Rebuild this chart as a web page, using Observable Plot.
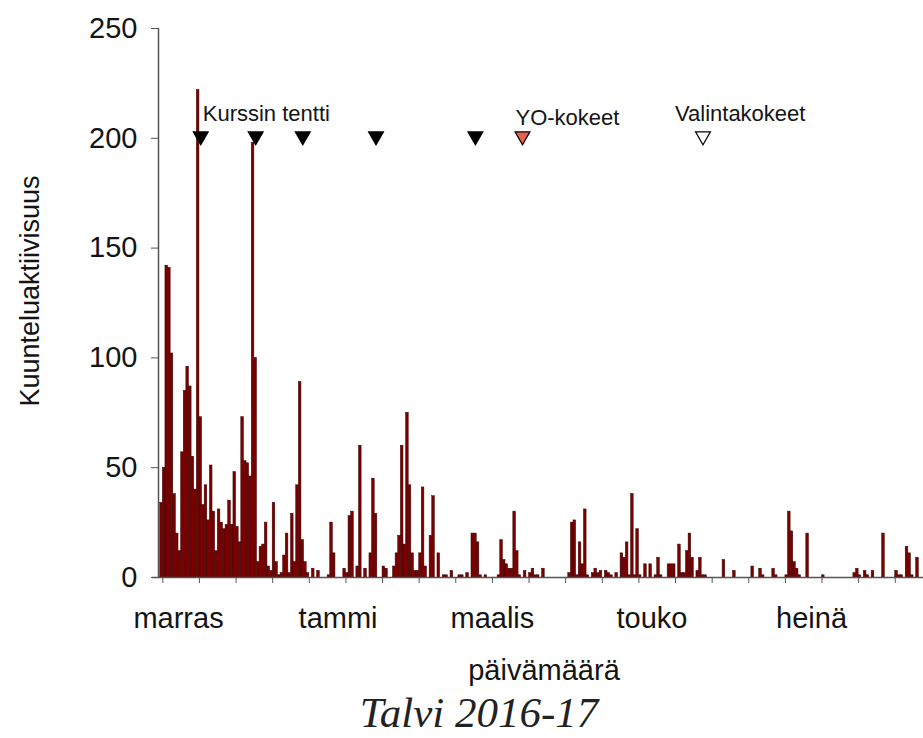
<!DOCTYPE html>
<html>
<head>
<meta charset="utf-8">
<script src="https://cdn.jsdelivr.net/npm/d3@7"></script>
<script src="https://cdn.jsdelivr.net/npm/@observablehq/plot@0.6"></script>
<style>
  html, body { margin: 0; padding: 0; background: white; }
  #wrap { position: relative; width: 923px; height: 738px; overflow: hidden; }
  #caption { position: absolute; left: 0; top: 688px; width: 923px; padding-left: 35px; box-sizing: border-box;
    text-align: center; font-family: 'Liberation Serif', 'DejaVu Serif', serif; font-style: italic;
    font-size: 43px; line-height: 50px; color: #222; }
</style>
</head>
<body>
<div id="wrap"><div id="chart"></div><div id="caption">Talvi 2016-17</div></div>
<script>
// Daily listening activity, one value per day starting 2016-10-25
const startDate = "2016-10-25";
const activity = [
  34, 50, 142, 141, 102, 38, 20, 12, 57, 85, 96, 87, 55, 40, 222, 73, 33, 42, 26, 51,
  30, 12, 31, 25, 22, 24, 35, 24, 48, 23, 16, 73, 53, 52, 46, 198, 100, 7, 14, 15,
  25, 5, 3, 34, 7, 1, 2, 10, 20, 2, 29, 7, 42, 89, 17, 7, 2, 0, 4, 0,
  3, 0, 0, 0, 1, 25, 11, 0, 0, 0, 4, 2, 28, 30, 0, 5, 60, 0, 4, 0,
  11, 45, 29, 0, 0, 5, 4, 0, 0, 5, 11, 19, 60, 15, 75, 42, 11, 3, 3, 11,
  41, 5, 0, 19, 37, 0, 11, 0, 1, 1, 0, 3, 0, 0, 1, 1, 0, 2, 0, 20,
  20, 16, 1, 0, 1, 0, 0, 0, 0, 1, 17, 8, 6, 4, 4, 30, 12, 1, 0, 3,
  0, 2, 4, 1, 1, 0, 4, 0, 0, 0, 0, 0, 0, 0, 0, 0, 2, 25, 26, 1,
  16, 6, 31, 1, 0, 2, 4, 2, 3, 0, 3, 2, 1, 0, 2, 0, 11, 9, 16, 1,
  38, 1, 22, 1, 0, 6, 0, 6, 0, 1, 9, 1, 0, 0, 6, 6, 6, 0, 15, 2,
  2, 12, 20, 9, 0, 3, 9, 1, 1, 0, 0, 0, 0, 0, 0, 8, 0, 0, 0, 3,
  0, 0, 0, 0, 0, 0, 5, 0, 0, 4, 1, 0, 0, 0, 4, 1, 0, 0, 0, 1,
  30, 21, 7, 4, 1, 0, 0, 20, 0, 0, 0, 0, 0, 1, 0, 0, 0, 0, 0, 0,
  0, 0, 0, 0, 0, 2, 4, 1, 0, 3, 1, 0, 3, 0, 0, 0, 20, 0, 0, 0,
  0, 3, 1, 1, 0, 14, 11, 1, 0, 9
];

// Events (marked with triangles at level 200)
const eventDates = ["2016-11-09", "2016-11-30", "2016-12-18", "2017-01-15", "2017-02-22", "2017-03-12", "2017-05-20"];
const eventKinds = ["tentti", "tentti", "tentti", "tentti", "tentti", "yo", "valinta"];
const eventLevel = 200;
const labelTexts = ["Kurssin tentti", "YO-kokeet", "Valintakokeet"];
const labelEventIndex = [0, 5, 6];

// Axis ticks
const yTicks = [0, 50, 100, 150, 200, 250];
const monthStarts = ["2016-11-01", "2017-01-01", "2017-03-01", "2017-05-01", "2017-07-01"];
const monthLabels = ["marras", "tammi", "maalis", "touko", "heinä"];
const minorTickStart = "2016-10-26";
const minorTickCount = 21;
const xDomain = ["2016-10-24T08:24Z", "2017-08-12T19:12Z"];

const DAY = 864e5;
const t0 = Date.parse(startDate + "T00:00Z");
const data = activity.map((v, i) => ({
  date: new Date(t0 + i * DAY),
  next: new Date(t0 + (i + 1) * DAY),
  value: v
})).filter(d => d.value > 0);

const fills = {tentti: "#000000", yo: "#e8604c", valinta: "#ffffff"};
const events = eventDates.map((d, i) => ({
  date: new Date(Date.parse(d + "T12:00Z")),
  kind: eventKinds[i]
}));
const labels = labelTexts.map((t, k) => ({text: t, date: events[labelEventIndex[k]].date}));

const monthDates = monthStarts.map(d => new Date(d + "T00:00Z"));
const m0 = Date.parse(minorTickStart + "T00:00Z");
const minorTicks = d3.range(minorTickCount).map(k => new Date(m0 + k * 14 * DAY));
const domain = xDomain.map(d => new Date(d));

const triDown = {
  draw(ctx, size) {
    const h = Math.sqrt(size) * 0.56;
    ctx.moveTo(-h, -h * 0.86);
    ctx.lineTo(h, -h * 0.86);
    ctx.lineTo(0, h * 0.86);
    ctx.closePath();
  }
};

const chart = Plot.plot({
  width: 923,
  height: 688,
  marginLeft: 158,
  marginRight: 0,
  marginTop: 28,
  marginBottom: 111,
  style: {
    fontFamily: "'Liberation Sans', Arial, sans-serif",
    fontSize: "29px",
    color: "#141414",
    background: "transparent",
    overflow: "visible"
  },
  x: {type: "utc", domain},
  y: {domain: [0, 250]},
  marks: [
    Plot.rect(data, {x1: "date", x2: "next", y1: 0, y2: "value", fill: "#7a0000", stroke: "#3d0000", strokeWidth: 0.5}),
    Plot.ruleX([domain[0]], {stroke: "#555", strokeWidth: 1.5}),
    Plot.ruleY([0], {stroke: "#555", strokeWidth: 1.5, insetLeft: -6}),
    Plot.axisY({ticks: yTicks, tickSize: 7, tickPadding: 14, label: null, fontSize: 29, stroke: "#555"}),
    Plot.axisX({ticks: minorTicks, tickSize: 6, tickFormat: () => "", label: null, stroke: "#555"}),
    Plot.axisX({ticks: monthDates, tickSize: 0, tickPadding: 30, label: null, fontSize: 29,
      tickFormat: d => monthLabels[monthDates.findIndex(m => +m === +d)]}),
    Plot.dot(events, {x: "date", y: () => eventLevel, symbol: triDown, r: 7.5,
      fill: d => fills[d.kind], stroke: "#000", strokeWidth: 1.2}),
    Plot.text(labels, {filter: (d, i) => i === 0, x: "date", y: () => eventLevel, text: "text",
      textAnchor: "start", lineAnchor: "bottom", dx: 2, dy: -17, fontSize: 22}),
    Plot.text(labels, {filter: (d, i) => i === 1, x: "date", y: () => eventLevel, text: "text",
      textAnchor: "start", lineAnchor: "bottom", dx: -7, dy: -13, fontSize: 22}),
    Plot.text(labels, {filter: (d, i) => i === 2, x: "date", y: () => eventLevel, text: "text",
      textAnchor: "start", lineAnchor: "bottom", dx: -28, dy: -17, fontSize: 22}),
    Plot.text(["Kuunteluaktiivisuus"], {frameAnchor: "left", textAnchor: "middle", dx: -128, dy: -12, rotate: -90, fontSize: 27}),
    Plot.text(["päivämäärä"], {frameAnchor: "bottom", textAnchor: "middle", lineAnchor: "bottom", dx: 3, dy: 102, fontSize: 29})
  ]
});
document.getElementById("chart").appendChild(chart);
</script>
</body>
</html>
